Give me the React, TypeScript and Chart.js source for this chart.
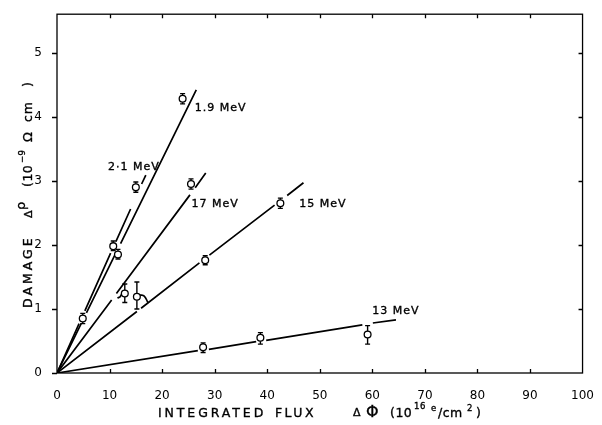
import React, { useEffect, useRef } from 'react';
import { Chart, registerables } from 'chart.js';

Chart.register(...registerables);

// ---- axis ranges / ticks ----
const X_MIN = 0;
const X_MAX = 100;
const X_STEP = 10;
const Y_MIN = 0;
const Y_MAX = 5.6;
const Y_STEP = 1;

// ---- measured points (flux, damage) with error bar limits ----
const p21X = [4.9, 10.7, 15.0];
const p21Y = [0.85, 1.98, 2.9];
const p21Lo = [0.77, 1.91, 2.82];
const p21Hi = [0.93, 2.06, 2.98];

const p19X = [11.6, 23.9];
const p19Y = [1.85, 4.28];
const p19Lo = [1.78, 4.2];
const p19Hi = [1.93, 4.36];

const p17X = [12.9, 25.5];
const p17Y = [1.24, 2.95];
const p17Lo = [1.1, 2.87];
const p17Hi = [1.39, 3.03];

const p15X = [15.2, 28.2, 42.5];
const p15Y = [1.19, 1.76, 2.65];
const p15Lo = [1.0, 1.69, 2.57];
const p15Hi = [1.42, 1.83, 2.73];

const p13X = [27.8, 38.7, 59.1];
const p13Y = [0.4, 0.55, 0.6];
const p13Lo = [0.32, 0.45, 0.45];
const p13Hi = [0.47, 0.63, 0.74];

// ---- fitted straight lines, broken where they pass the points (null = gap) ----
const fit21X = [0, 4.2, null, 5.3, 10.2, null, 11.2, 14.0, null, 16.1, 16.9];
const fit21Y = [0, 0.77, null, 0.97, 1.87, null, 2.05, 2.56, null, 2.95, 3.09];

const fit19X = [0, 4.6, null, 5.6, 11.0, null, 12.1, 26.5];
const fit19Y = [0, 0.77, null, 0.94, 1.84, null, 2.02, 4.42];

const fit17X = [0, 10.4, null, 11.3, 25.3, null, 26.3, 28.3];
const fit17Y = [0, 1.14, null, 1.24, 2.78, null, 2.89, 3.12];

const fit15X = [0, 15.2, null, 16.0, 27.1, null, 29.0, 41.4, null, 43.8, 46.9];
const fit15Y = [0, 0.96, null, 1.01, 1.72, null, 1.84, 2.62, null, 2.77, 2.97];

const fit13X = [0, 26.8, null, 28.9, 37.9, null, 39.8, 58.1, null, 60.1, 64.5];
const fit13Y = [0, 0.35, null, 0.37, 0.49, null, 0.51, 0.75, null, 0.78, 0.83];

// small connector arcs tying two points to their lines
const conn17X = [11.5, 12.0, 12.3];
const conn17Y = [1.17, 1.19, 1.23];
const conn15X = [15.8, 16.6, 17.3];
const conn15Y = [1.22, 1.2, 1.1];

// ---- curve labels ----
const labelText = ['2·1 MeV', '1.9 MeV', '17 MeV', '15 MeV', '13 MeV'];
const labelX = [9.7, 26.2, 25.6, 46.1, 60.0];
const labelY = [3.21, 4.14, 2.64, 2.64, 0.97];

const INK = '#000';

const toXY = (xs: (number | null)[], ys: (number | null)[]) => {
  let lastX = 0;
  return xs.map((x, i) => {
    if (x === null || ys[i] === null) return { x: lastX, y: null };
    lastX = x;
    return { x, y: ys[i] as number };
  });
};

const groups = [
  { x: p21X, y: p21Y, lo: p21Lo, hi: p21Hi },
  { x: p19X, y: p19Y, lo: p19Lo, hi: p19Hi },
  { x: p17X, y: p17Y, lo: p17Lo, hi: p17Hi },
  { x: p15X, y: p15Y, lo: p15Lo, hi: p15Hi },
  { x: p13X, y: p13Y, lo: p13Lo, hi: p13Hi },
];

const txt = (ctx: any, s: string, x: number, y: number) => {
  ctx.fillText(s, x, y);
  ctx.strokeText(s, x, y);
};

const decor = {
  id: 'decor',
  beforeDatasetsDraw(chart: any) {
    const { ctx } = chart;
    const xs = chart.scales.x;
    const ys = chart.scales.y;
    ctx.save();
    ctx.strokeStyle = INK;
    ctx.lineWidth = 1.4;
    groups.forEach((g) => {
      g.x.forEach((xv, i) => {
        const px = xs.getPixelForValue(xv);
        const pl = ys.getPixelForValue(g.lo[i]);
        const ph = ys.getPixelForValue(g.hi[i]);
        ctx.beginPath();
        ctx.moveTo(px, pl);
        ctx.lineTo(px, ph);
        ctx.moveTo(px - 2.5, pl);
        ctx.lineTo(px + 2.5, pl);
        ctx.moveTo(px - 2.5, ph);
        ctx.lineTo(px + 2.5, ph);
        ctx.stroke();
      });
    });
    ctx.restore();
  },
  afterDraw(chart: any) {
    const { ctx, chartArea } = chart;
    const { left, right, top, bottom } = chartArea;
    const xs = chart.scales.x;
    const ys = chart.scales.y;
    ctx.save();
    ctx.strokeStyle = INK;
    ctx.fillStyle = INK;
    ctx.lineWidth = 1.3;
    ctx.strokeRect(left, top, right - left, bottom - top);

    // inward ticks on bottom/top, inward on right, outward on left
    ctx.beginPath();
    for (let v = X_MIN + X_STEP; v < X_MAX; v += X_STEP) {
      const px = Math.round(xs.getPixelForValue(v)) + 0.5;
      ctx.moveTo(px, bottom);
      ctx.lineTo(px, bottom - 4);
      ctx.moveTo(px, top);
      ctx.lineTo(px, top + 4);
    }
    for (let v = Y_MIN; v <= 5; v += Y_STEP) {
      const py = Math.round(ys.getPixelForValue(v)) + 0.5;
      ctx.moveTo(left, py);
      ctx.lineTo(left - 5, py);
      if (v > 0) {
        ctx.moveTo(right, py);
        ctx.lineTo(right - 4, py);
      }
    }
    ctx.stroke();

    ctx.lineWidth = 0.35;

    // curve labels
    ctx.textAlign = 'left';
    ctx.textBaseline = 'middle';
    ctx.font = '11px "DejaVu Sans"';
    (ctx as any).letterSpacing = '1px';
    labelText.forEach((t, i) => {
      txt(ctx, t, xs.getPixelForValue(labelX[i]), ys.getPixelForValue(labelY[i]));
    });

    // x axis title
    ctx.textBaseline = 'alphabetic';
    const base = 417;
    ctx.font = '12.5px "DejaVu Sans"';
    (ctx as any).letterSpacing = '2.9px';
    txt(ctx, 'INTEGRATED', 158, base);
    (ctx as any).letterSpacing = '2.4px';
    txt(ctx, 'FLUX', 275, base);
    (ctx as any).letterSpacing = '0px';
    ctx.font = '11px "DejaVu Sans"';
    txt(ctx, 'Δ', 353, base - 1);
    ctx.font = '16px "DejaVu Sans"';
    txt(ctx, 'Φ', 366, base);
    ctx.font = '12.5px "DejaVu Sans"';
    (ctx as any).letterSpacing = '0.5px';
    txt(ctx, '(10', 390, base);
    ctx.font = '8.5px "DejaVu Sans"';
    txt(ctx, '16', 414, base - 8);
    txt(ctx, 'e', 431, base - 6);
    ctx.font = '12.5px "DejaVu Sans"';
    txt(ctx, '/cm', 438, base);
    ctx.font = '8.5px "DejaVu Sans"';
    txt(ctx, '2', 467, base - 6);
    ctx.font = '12.5px "DejaVu Sans"';
    txt(ctx, ')', 476, base);

    // y axis title (rotated)
    ctx.translate(32, 193);
    ctx.rotate(-Math.PI / 2);
    ctx.font = '12.5px "DejaVu Sans"';
    (ctx as any).letterSpacing = '3px';
    txt(ctx, 'DAMAGE', -115, 0);
    (ctx as any).letterSpacing = '0px';
    ctx.font = '11px "DejaVu Sans"';
    txt(ctx, 'Δ', -25, 0);
    ctx.font = '13px "DejaVu Sans"';
    txt(ctx, 'ρ', -17, -7);
    ctx.font = '12.5px "DejaVu Sans"';
    (ctx as any).letterSpacing = '0.5px';
    txt(ctx, '(10', 6, 0);
    ctx.font = '8.5px "DejaVu Sans"';
    txt(ctx, '−9', 30, -7);
    ctx.font = '13px "DejaVu Sans"';
    txt(ctx, 'Ω', 51, 0);
    ctx.font = '12.5px "DejaVu Sans"';
    (ctx as any).letterSpacing = '1px';
    txt(ctx, 'cm', 71, 0);
    txt(ctx, ')', 106, 0);
    ctx.restore();
  },
};

const lineDs = (xs: (number | null)[], ys: (number | null)[], tension = 0) => ({
  type: 'line' as const,
  data: toXY(xs, ys) as any,
  showLine: true,
  spanGaps: false,
  borderColor: INK,
  borderWidth: 1.7,
  pointRadius: 0,
  tension,
  fill: false,
  order: 2,
});

const pointDs = (xs: number[], ys: number[]) => ({
  type: 'scatter' as const,
  data: toXY(xs, ys) as any,
  showLine: false,
  pointRadius: 3.4,
  pointBorderWidth: 1.3,
  pointBorderColor: INK,
  pointBackgroundColor: '#fff',
  order: 0,
});

export default function App() {
  const ref = useRef<HTMLCanvasElement | null>(null);
  useEffect(() => {
    if (!ref.current) return;
    const chart = new Chart(ref.current, {
      type: 'scatter',
      data: {
        datasets: [
          lineDs(fit21X, fit21Y),
          lineDs(fit19X, fit19Y),
          lineDs(fit17X, fit17Y),
          lineDs(fit15X, fit15Y),
          lineDs(fit13X, fit13Y),
          lineDs(conn17X, conn17Y, 0.4),
          lineDs(conn15X, conn15Y, 0.4),
          pointDs(p21X, p21Y),
          pointDs(p19X, p19Y),
          pointDs(p17X, p17Y),
          pointDs(p15X, p15Y),
          pointDs(p13X, p13Y),
        ] as any,
      },
      options: {
        animation: false,
        responsive: false,
        layout: { padding: { left: 0, top: 10, right: 19, bottom: 0 } },
        plugins: { legend: { display: false }, tooltip: { enabled: false } },
        scales: {
          x: {
            type: 'linear',
            min: X_MIN,
            max: X_MAX,
            grid: { display: false },
            border: { display: false },
            ticks: {
              stepSize: X_STEP,
              padding: 8,
              color: INK,
              font: { family: '"DejaVu Sans"', size: 12 },
            },
            afterFit: (s: any) => {
              s.height = 52;
            },
          },
          y: {
            type: 'linear',
            min: Y_MIN,
            max: Y_MAX,
            grid: { display: false },
            border: { display: false },
            ticks: {
              stepSize: Y_STEP,
              padding: 7,
              color: INK,
              font: { family: '"DejaVu Sans"', size: 12 },
            },
            afterBuildTicks: (s: any) => {
              s.ticks = s.ticks.filter((t: any) => Number.isInteger(t.value));
            },
            afterFit: (s: any) => {
              s.width = 57;
            },
          },
        },
      },
      plugins: [decor],
    });
    return () => chart.destroy();
  }, []);
  return (
    <div style={{ position: 'fixed', left: 0, top: 0, width: 602, height: 425, background: '#fff' }}>
      <canvas ref={ref} width={602} height={425} />
    </div>
  );
}
